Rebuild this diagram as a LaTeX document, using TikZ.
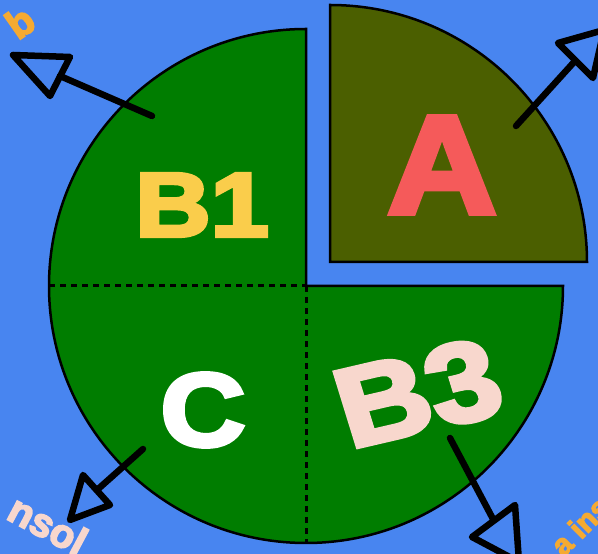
\documentclass[tikz,border=0pt]{standalone}
\usepackage{fontspec}
\setmainfont{Liberation Sans}
\newfontfamily\heavy[FakeBold=4]{Liberation Sans Bold}
\definecolor{bgblue}{RGB}{72,133,240}
\definecolor{pgreen}{RGB}{0,125,0}
\definecolor{polive}{RGB}{75,95,0}
\definecolor{pyellow}{RGB}{250,205,75}
\definecolor{pred}{RGB}{245,90,90}
\definecolor{ppink}{RGB}{248,215,205}
\definecolor{porange}{RGB}{245,170,50}
\tikzset{
  outline/.style={draw=black,line width=2.5pt},
  divider/.style={draw=black,line width=3pt,dash pattern=on 6pt off 5pt},
  arrowline/.style={draw=black,line width=6.5pt,line cap=round},
  arrowhead/.style={draw=black,line width=6.5pt,line join=round},
  bigletter/.style={inner sep=0pt,font=\heavy},
}
\begin{document}
\begin{tikzpicture}[x=1pt,y=1pt]
\useasboundingbox (0,0) rectangle (598,554);
\clip (0,0) rectangle (598,554);
\fill[bgblue] (0,0) rectangle (598,554);
% coordinates
\coordinate (ctr) at (306,268);
\coordinate (actr) at (330,292);
% bottom half
\fill[pgreen] (ctr) ++(0:257) arc[start angle=0,end angle=-180,radius=257] -- cycle;
\draw[outline] (ctr) ++(180:257) arc[start angle=180,end angle=360,radius=257] -- (ctr);
% B1 quarter
\fill[pgreen] (ctr) -- ++(0,257) arc[start angle=90,end angle=180,radius=257] -- cycle;
\draw[outline] (ctr) -- ++(0,257) arc[start angle=90,end angle=180,radius=257];
% A quarter
\fill[polive] (actr) -- ++(0,257) arc[start angle=90,end angle=0,radius=257] -- cycle;
\draw[outline] (actr) -- ++(0,257) arc[start angle=90,end angle=0,radius=257] -- cycle;
% dividers
\coordinate (dl) at (49,268);
\coordinate (db) at (306,11);
\draw[divider] (dl) -- (ctr);
\draw[divider] (ctr) -- (db);
% letters
\node[bigletter,text=pyellow,font=\heavy\fontsize{91}{91}\selectfont,xscale=1.15] (b1) at (202,349) {B1};
\node[bigletter,text=pred,font=\heavy\fontsize{140}{140}\selectfont,xscale=1.08] (a) at (442,389) {A};
\node[bigletter,text=white,font=\heavy\fontsize{104}{104}\selectfont,xscale=1.13] (c) at (203,144) {C};
\node[bigletter,text=ppink,font=\heavy\fontsize{112}{112}\selectfont,xscale=1.15,rotate=15] (b3) at (418,161) {B3};
% corner texts
\node[inner sep=0pt,text=porange,font=\heavy\fontsize{40}{40}\selectfont,rotate=35] (t1) at (20,532) {b};
\node[inner sep=0pt,text=ppink,font=\heavy\fontsize{40}{40}\selectfont,rotate=-28] (t2) at (48,29) {nsol};
\node[inner sep=0pt,text=porange,font=\heavy\fontsize{30}{30}\selectfont,rotate=45] (t3) at (580,28) {a ins};
% arrows
\coordinate (s1) at (152,438); \coordinate (e1) at (60,478);
\coordinate (h1a) at (13,499); \coordinate (h1b) at (70,497); \coordinate (h1c) at (50,458);
\draw[arrowline] (s1) -- (e1);
\draw[arrowhead] (h1a) -- (h1b) -- (h1c) -- cycle;
\coordinate (s2) at (516,428); \coordinate (e2) at (575,493);
\coordinate (h2a) at (558,511); \coordinate (h2b) at (604,524); \coordinate (h2c) at (593,476);
\draw[arrowline] (s2) -- (e2);
\draw[arrowhead] (h2a) -- (h2b) -- (h2c) -- cycle;
\coordinate (s3) at (143,105); \coordinate (e3) at (97,64);
\coordinate (h3a) at (83,79); \coordinate (h3b) at (110,49); \coordinate (h3c) at (70,34);
\draw[arrowline] (s3) -- (e3);
\draw[arrowhead] (h3a) -- (h3b) -- (h3c) -- cycle;
\coordinate (s4) at (450,116); \coordinate (e4) at (493,35);
\coordinate (h4a) at (472,17); \coordinate (h4b) at (515,49); \coordinate (h4c) at (519,-8);
\draw[arrowline] (s4) -- (e4);
\draw[arrowhead] (h4a) -- (h4b) -- (h4c) -- cycle;
\end{tikzpicture}
\end{document}
